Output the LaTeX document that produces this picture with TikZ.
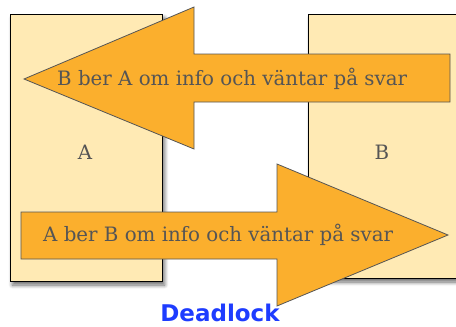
\documentclass[tikz,border=0pt]{standalone}
\usepackage{fontspec}
\newfontfamily\msgfont{DejaVu Serif}
\newfontfamily\titlefont{DejaVu Sans}
\usetikzlibrary{shadows.blur}
\definecolor{boxfill}{RGB}{255,234,180}
\definecolor{arrowfill}{RGB}{251,175,45}
\definecolor{textgray}{RGB}{85,85,85}
\definecolor{deadblue}{RGB}{30,60,255}
\tikzset{
  proc/.style={fill=boxfill,draw=black,thick,
    blur shadow={shadow xshift=2.5pt,shadow yshift=-4pt,shadow blur steps=8,
      shadow blur radius=4pt,shadow opacity=60}},
  bigarrow/.style={fill=arrowfill,draw=textgray,line width=0.8pt,line join=miter},
  msg/.style={text=textgray,font=\msgfont\fontsize{19.8}{22}\selectfont,inner sep=0pt},
}
\begin{document}
\begin{tikzpicture}[x=1pt,y=-1pt]
\useasboundingbox (0,0) rectangle (456,327);
\clip (0,0) rectangle (456,327);
% the two processes
\path[proc] (10,14) rectangle (162,281);
\path[proc] (308,14) rectangle (470,278);
\node[msg] (lblA) at (85,152) {A};
\node[msg] (lblB) at (382,152) {B};
% request from B to A
\draw[bigarrow] (24,79) -- (194,7) -- (194,54) -- (450,54) -- (450,102)
  -- (194,102) -- (194,149) -- cycle;
\node[msg,anchor=west] (reqB) at (57,79) {B ber A om info och väntar på svar};
% request from A to B
\draw[bigarrow] (448,235) -- (277,164) -- (277,212) -- (21,212) -- (21,259)
  -- (277,259) -- (277,306) -- cycle;
\node[msg,anchor=west] (reqA) at (43,235) {A ber B om info och väntar på svar};
\node[font=\titlefont\bfseries\fontsize{23}{25}\selectfont,text=deadblue,inner sep=0pt]
  (title) at (220,313) {Deadlock};
\end{tikzpicture}
\end{document}
